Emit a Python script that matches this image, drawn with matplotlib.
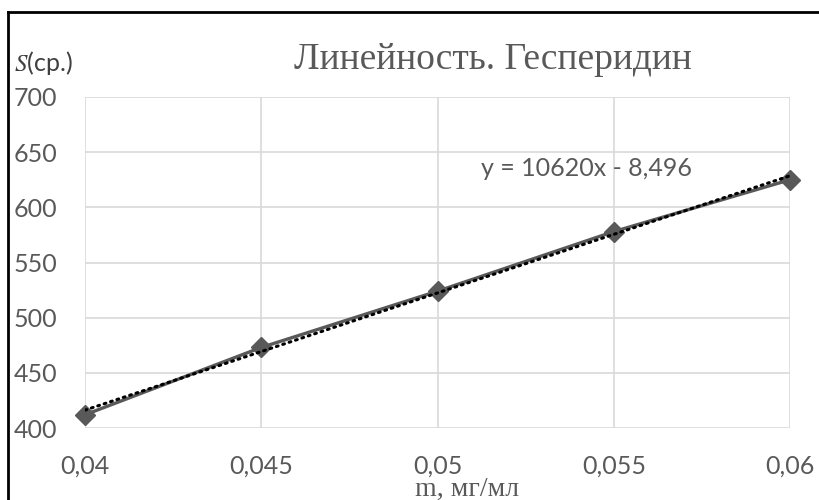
import numpy as np
import matplotlib
matplotlib.use('Agg')
import matplotlib.pyplot as plt
from matplotlib.lines import Line2D

# Data
conc = [0.04, 0.045, 0.05, 0.055, 0.06]
area = [412, 473, 524, 578, 625]
x_ticks = [0.04, 0.045, 0.05, 0.055, 0.06]
x_tick_labels = ['0,04', '0,045', '0,05', '0,055', '0,06']
y_ticks = [400, 450, 500, 550, 600, 650, 700]

TEXT_GRAY = '#595959'
GRID_GRAY = '#d9d9d9'

plt.rcParams['mathtext.fontset'] = 'stix'

fig = plt.figure(figsize=(8.19, 5.0), dpi=100)
ax = fig.add_axes([85 / 819, 1 - 428 / 500, 705 / 819, 331 / 500])

ax.set_xlim(0.04, 0.06)
ax.set_ylim(400, 700)
ax.set_xticks(x_ticks)
ax.set_xticklabels(x_tick_labels)
ax.set_yticks(y_ticks)

for side in ax.spines.values():
    side.set_visible(False)
ax.grid(True, color=GRID_GRAY, linewidth=1.2)
ax.set_axisbelow(True)
ax.tick_params(axis='both', length=0, labelsize=18, labelcolor=TEXT_GRAY)
ax.tick_params(axis='y', pad=20)
ax.tick_params(axis='x', pad=19)
for lbl in ax.get_xticklabels() + ax.get_yticklabels():
    lbl.set_fontfamily('Lato')

# trendline (linear fit)
k, b = np.polyfit(conc, area, 1)
xs = np.array([conc[0], conc[-1]])
ax.plot(xs, k * xs + b, color='black', linewidth=2.2,
        linestyle=(0, (0.6, 1.6)), dash_capstyle='round', zorder=3)

# measured series
ax.plot(conc, area, color=TEXT_GRAY, linewidth=2.4, marker='D',
        markersize=10.5, markeredgecolor=TEXT_GRAY, zorder=2, clip_on=False)

ax.text(0.712, 0.785, 'y = 10620x - 8,496', transform=ax.transAxes,
        ha='center', va='center', fontsize=18, color=TEXT_GRAY, family='Lato')

fig.text(493 / 819, 1 - 60 / 500, 'Линейность. Гесперидин', ha='center', va='center',
         fontsize=27, color=TEXT_GRAY, family='Liberation Serif')
fig.text(14 / 819, 1 - 63 / 500, r'$S$(ср.)', ha='left', va='center',
         fontsize=18, color='#404040', family='Lato')
fig.text(467 / 819, 1 - 489 / 500, 'm, мг/мл', ha='center', va='center',
         fontsize=20, color=TEXT_GRAY, family='Liberation Serif')

# outer frame (left and top edges visible)
fig.add_artist(Line2D([8 / 819, 8 / 819], [-0.1, 1 - 12 / 500], color='black',
                      linewidth=2, transform=fig.transFigure))
fig.add_artist(Line2D([8 / 819, 1.1], [1 - 12 / 500, 1 - 12 / 500], color='black',
                      linewidth=2, transform=fig.transFigure))

fig.savefig('out.png', dpi=100)
